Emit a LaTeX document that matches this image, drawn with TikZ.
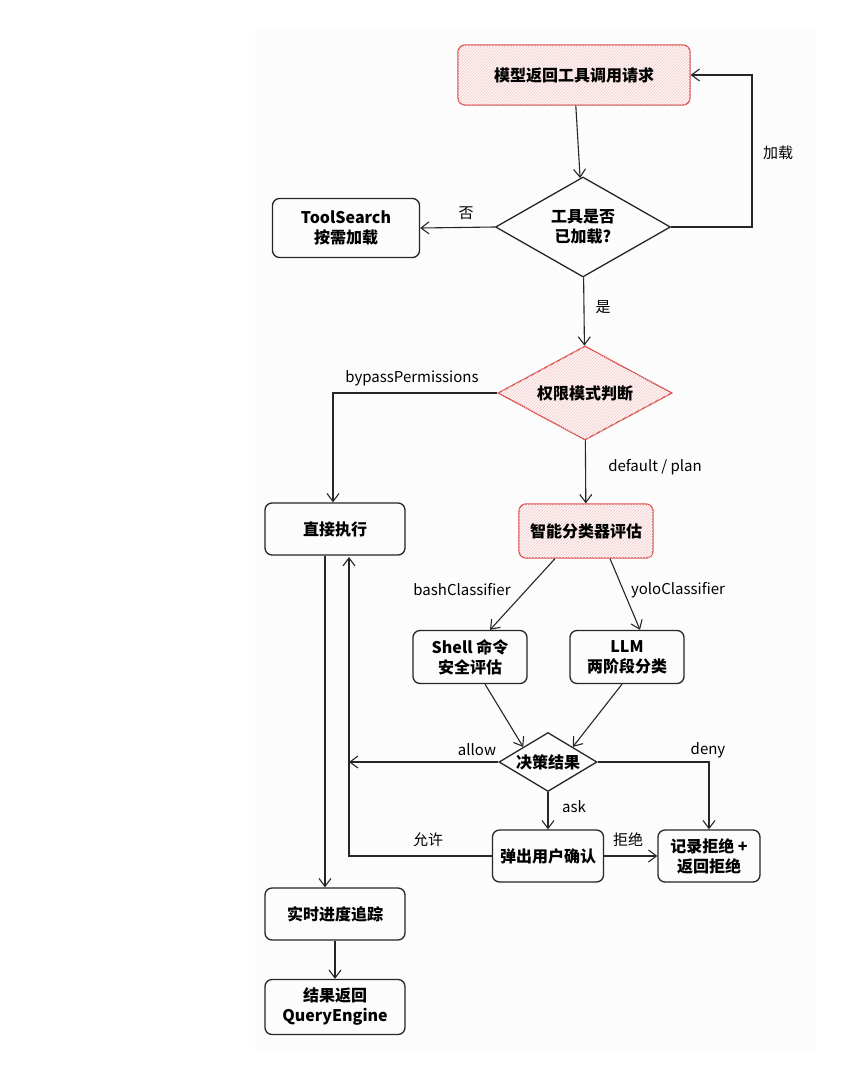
\documentclass[tikz,border=0pt]{standalone}
\usepackage{fontspec}
\setmainfont{Noto Sans CJK SC}
\usetikzlibrary{shapes.geometric,patterns,arrows.meta}
\definecolor{redb}{HTML}{D9534F}
\definecolor{hatch}{HTML}{F0C8C8}
\begin{document}
\begin{tikzpicture}[x=1pt,y=-1pt,
  box/.style={draw=black!85,line width=1.3pt,rounded corners=7pt,align=center,font=\fontsize{16}{20}\selectfont\bfseries,inner sep=0pt},
  red/.style={draw=redb,fill=red!4,postaction={pattern=north east lines,pattern color=hatch}},
  dia/.style={draw=black!85,line width=1.3pt,diamond,aspect=1.75,align=center,font=\fontsize{16}{20}\selectfont\bfseries,inner sep=0pt},
  lab/.style={font=\fontsize{15}{17}\selectfont},
  arr/.style={-{Straight Barb[length=8pt,width=12pt]},line width=1.1pt,black!85}]
\useasboundingbox (0,0) rectangle (866,1074);
\fill[white] (0,0) rectangle (866,1074);
\fill[black!1.2] (255,30) rectangle (815,1050);
\node[box,red,minimum width=232,minimum height=60] (n1) at (574,75) {模型返回工具调用请求};
\node[dia,minimum width=175,minimum height=100] (d1) at (583,227) {工具是否\\已加载?};
\node[box,minimum width=147,minimum height=59] (ts) at (346,228) {ToolSearch\\按需加载};
\node[dia,red,minimum width=174,minimum height=94] (d2) at (585,393) {权限模式判断};
\node[box,minimum width=140,minimum height=52] (exec) at (335,529) {直接执行};
\node[box,red,minimum width=134,minimum height=54] (cls) at (586,531) {智能分类器评估};
\node[box,minimum width=114,minimum height=53] (sh) at (470,657) {Shell 命令\\安全评估};
\node[box,minimum width=114,minimum height=53] (llm) at (627,657) {LLM\\两阶段分类};
\node[dia,minimum width=98,minimum height=59] (d3) at (548,762) {决策结果};
\node[box,minimum width=111,minimum height=52] (pop) at (548,856) {弹出用户确认};
\node[box,minimum width=102,minimum height=52] (rej) at (709,856) {记录拒绝 +\\返回拒绝};
\node[box,minimum width=140,minimum height=52] (trk) at (335,914) {实时进度追踪};
\node[box,minimum width=140,minimum height=55] (res) at (335,1007) {结果返回\\QueryEngine};
\coordinate (c1) at (752,227); \coordinate (c2) at (752,75);
\coordinate (c3) at (333,393);
\coordinate (c4) at (709,762);
\coordinate (c5) at (349,762);
\coordinate (c6) at (349,856);
\coordinate (c7) at (349,557);
\draw[arr] (n1) -- (d1);
\draw[arr] (d1.east) -- (c1) -- (c2) -- (n1.east);
\draw[arr] (d1.west) -- (ts.east);
\draw[arr] (d1) -- (d2);
\draw[arr] (d2.west) -- (c3) -- (exec.north -| c3);
\draw[arr] (d2) -- (cls);
\draw[arr] (cls.south -| 555,0) -- (sh.north -| 490,0);
\draw[arr] (cls.south -| 610,0) -- (llm.north -| 640,0);
\draw[arr] (sh.south -| 485,0) -- (d3.north west);
\draw[arr] (llm.south -| 622,0) -- (d3.north east);
\draw[arr] (d3.west) -- (c5);
\draw[arr] (d3.east) -- (c4) -- (rej.north);
\draw[arr] (d3) -- (pop);
\draw[arr] (pop) -- (rej);
\draw[arr] (pop.west) -- (c6) -- (c7);
\draw[arr] (exec.south -| 325,0) -- (trk.north -| 325,0);
\draw[arr] (trk) -- (res);
\node[lab] at (778,153) {加载};
\node[lab] at (466,213) {否};
\node[lab] at (603,307) {是};
\node[lab] at (412,378) {bypassPermissions};
\node[lab] at (655,467) {default / plan};
\node[lab] at (462,590) {bashClassifier};
\node[lab] at (678,590) {yoloClassifier};
\node[lab] at (477,750) {allow};
\node[lab] at (708,750) {deny};
\node[lab] at (574,807) {ask};
\node[lab] at (428,840) {允许};
\node[lab] at (628,840) {拒绝};
\end{tikzpicture}
\end{document}
